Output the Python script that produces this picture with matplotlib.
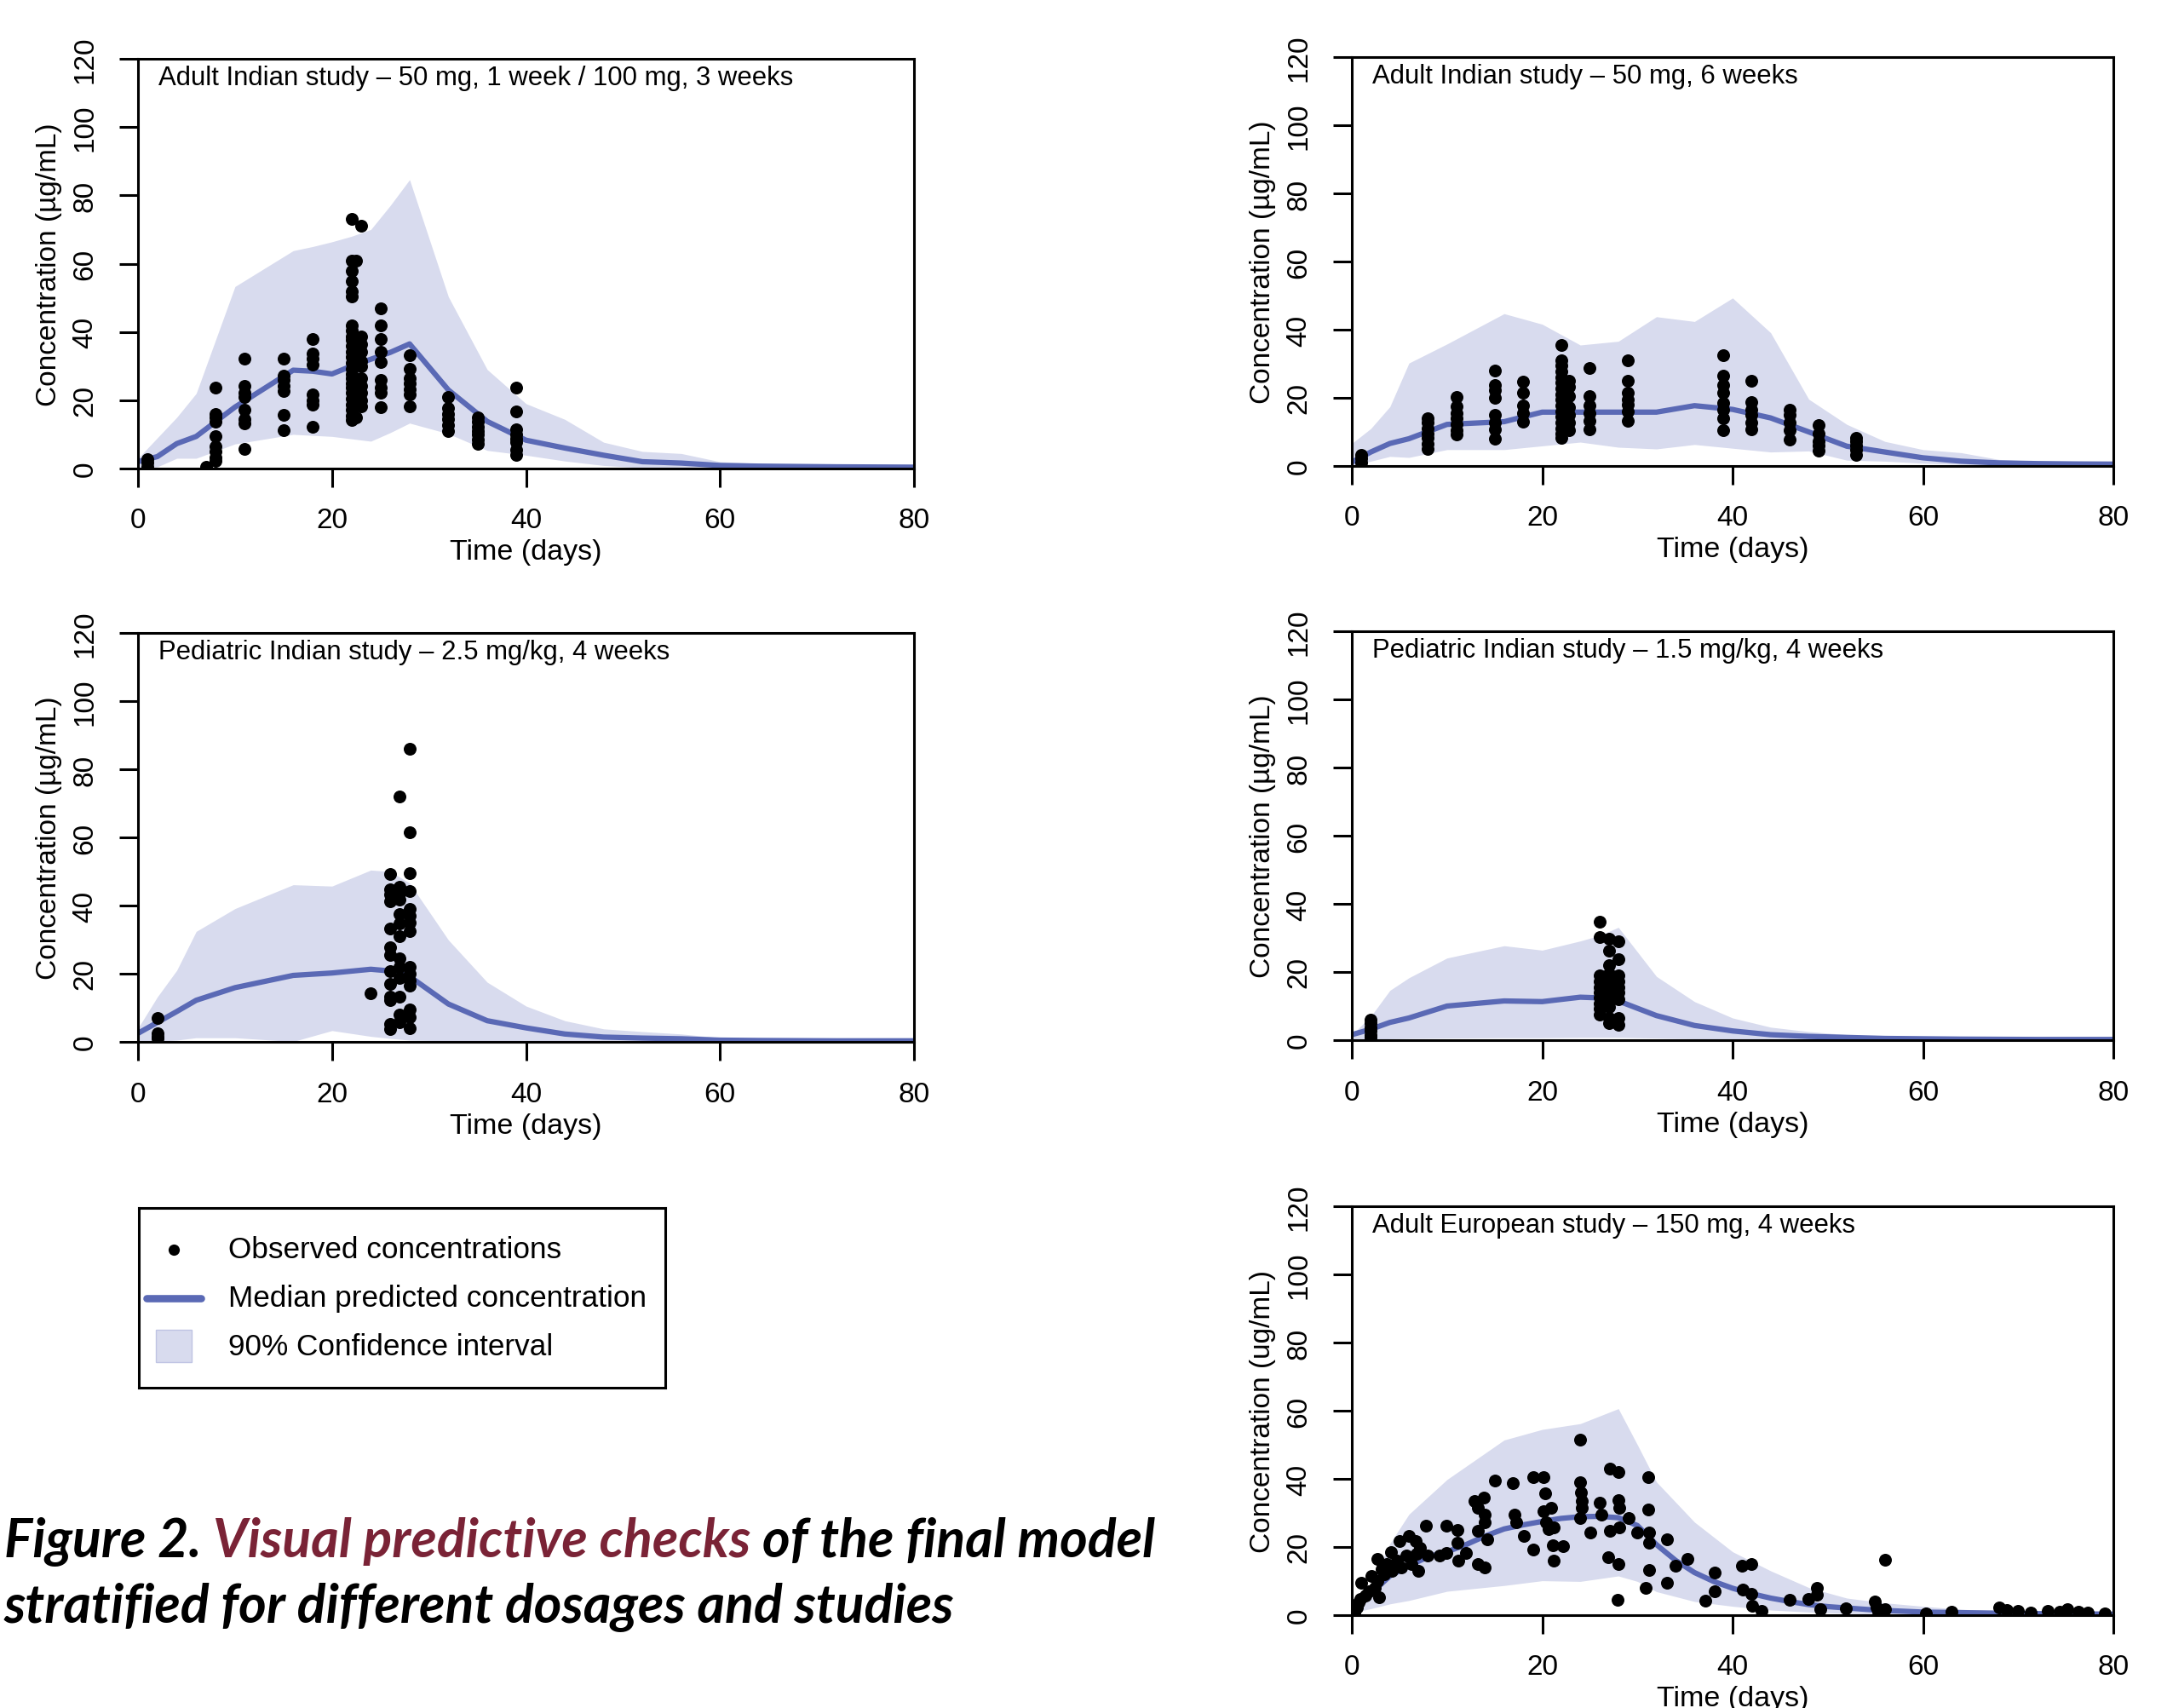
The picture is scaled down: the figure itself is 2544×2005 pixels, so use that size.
import matplotlib
matplotlib.use("Agg")
import matplotlib.pyplot as plt
from matplotlib.patches import Rectangle
import numpy as np

# ---------------- data ----------------
# Panel 1: Adult Indian study - 50 mg, 1 week / 100 mg, 3 weeks
p1_t = [0, 2, 4, 6, 10, 16, 18, 20, 22, 24, 26, 28, 32, 36, 40, 44, 48, 52, 56, 60, 64, 68, 72, 76, 80]
p1_med = [2, 3.5, 7.3, 9.4, 18, 28.8, 28.5, 27.7, 30, 32, 34, 36.5, 23, 13.8, 8.3, 6, 3.9, 2, 1.6, 0.9, 0.7, 0.6, 0.5, 0.45, 0.4]
p1_hi = [3, 9, 15, 22, 53.3, 63.8, 65, 66.4, 68, 70, 77, 84.6, 50.3, 29, 19, 14.4, 7.7, 5, 4.4, 2, 1.5, 1.2, 1, 0.8, 0.5]
p1_lo = [0, 0.5, 3, 3, 7.2, 10, 9.7, 9.4, 8.7, 8, 10.5, 13.3, 10.2, 5.3, 3.9, 2.2, 0.9, 0.2, 0.1, 0.05, 0.05, 0.05, 0.05, 0.05, 0.05]
p1_obs_days = [1, 7, 8, 11, 15, 18, 22, 22.5, 23, 25, 28, 32, 35, 39]
p1_obs_conc = [
    [2.8, 1.7, 0.6],
    [0.5],
    [23.8, 16, 15, 13.8, 9.4, 6.6, 5, 3.3, 2.2],
    [32.3, 24.3, 22.1, 21, 17.1, 14.4, 13.3, 5.8],
    [32.1, 27.1, 26, 24.3, 22.7, 15.7, 11.3],
    [37.8, 33.7, 32.1, 30.4, 21.6, 19.9, 18.8, 12.2],
    [73.2, 60.8, 58, 54.8, 52, 50.3, 42, 40.4, 38.7, 37.6, 36, 34.3, 32.6, 31, 29.3, 27.7,
     26.5, 24.9, 23.8, 22.1, 20.5, 18.8, 17.1, 15.5, 14.2],
    [60.8, 15],
    [71, 38.7, 36.5, 34.3, 31.5, 29.9, 26.5, 24.3, 22.1, 19.9, 18.3],
    [47, 41.8, 37.8, 34.3, 31.2, 26, 23.8, 22.1, 17.9],
    [33.2, 29.3, 26.5, 24.9, 23.2, 21.6, 18.3],
    [21, 17.7, 16, 14.4, 12.7, 11],
    [15, 13.8, 12.2, 11, 10, 8.6, 7.2],
    [23.8, 16.8, 11.6, 10, 8.8, 7.7, 5.5, 3.9],
]

# Panel 2: Adult Indian study - 50 mg, 6 weeks
p2_t = [0, 2, 4, 6, 10, 16, 20, 24, 28, 32, 36, 40, 44, 48, 52, 56, 60, 64, 68, 72, 76, 80]
p2_med = [1.1, 4.1, 6.6, 8, 12.2, 13, 15.8, 15.8, 15.8, 15.8, 17.7, 16.6, 14.1, 10, 5.8, 4.1, 2.4, 1.4, 0.9, 0.7, 0.6, 0.55]
p2_hi = [6.6, 11, 17.4, 30.2, 35.8, 44.7, 41.6, 35.5, 36.6, 43.8, 42.4, 49.3, 39.1, 19.6, 12.2, 7.2, 4.8, 3.9, 1.9, 1.4, 1.0, 0.8]
p2_lo = [0, 1.4, 2.8, 2.5, 4.8, 4.8, 5.9, 7, 5.5, 5, 6.3, 5.2, 4.1, 4.4, 1.7, 1.4, 0.8, 0.5, 0.3, 0.2, 0.15, 0.1]
p2_obs_days = [1, 8, 11, 15, 18, 22, 22.8, 25, 29, 39, 42, 46, 49, 53]
p2_obs_conc = [
    [3.3, 2.2, 1.1],
    [14.1, 12.7, 11.1, 9.6, 8.3, 6.6, 5],
    [20.3, 17.4, 15.5, 13.9, 12.2, 10.5, 9.2],
    [28, 23.8, 22.2, 19.9, 15, 12.7, 10.7, 8.1],
    [24.7, 21.6, 17.7, 15.5, 13],
    [35.5, 31, 29.6, 27.7, 26, 24.4, 22.7, 21, 19.4, 17.7, 16.1, 14.4, 12.7, 11.1, 9.4, 8.3],
    [24.9, 23.3, 20.5, 17.2, 15, 12.7, 10.5],
    [28.8, 20.5, 17.7, 15.5, 13.3, 10.7],
    [31, 24.9, 21.6, 19.6, 18.1, 16.1, 13.3],
    [32.4, 26.6, 23.8, 21.4, 18.5, 16.6, 14.1, 10.5],
    [24.9, 18.8, 16.6, 15, 12.7, 10.7],
    [16.6, 15, 12.7, 10.5, 7.8],
    [11.9, 9.4, 7.2, 6.1, 4.4],
    [8.3, 7.2, 6.1, 4.8, 3.3],
]

# Panel 3: Pediatric Indian study - 2.5 mg/kg, 4 weeks
p3_t = [0, 2, 4, 6, 10, 16, 20, 24, 26, 28, 32, 36, 40, 44, 48, 52, 56, 60, 64, 68, 72, 76, 80]
p3_med = [2.5, 5.7, 8.9, 12.2, 15.9, 19.5, 20.2, 21.3, 20.8, 19.2, 11.1, 6.2, 4.1, 2.3, 1.4, 1.1, 0.9, 0.5, 0.4, 0.35, 0.3, 0.3, 0.3]
p3_hi = [4, 13.2, 21, 32.4, 39.1, 46.1, 45.7, 50.4, 50, 46.6, 29.9, 17.5, 10.5, 6.2, 3.8, 3, 2.3, 1.2, 0.9, 0.7, 0.5, 0.4, 0.3]
p3_lo = [0, 0.2, 0.5, 1.2, 1.2, 0.1, 3.3, 1.6, 1.0, 0.5, 0.3, 0.2, 0.1, 0.05, 0, 0, 0, 0, 0, 0, 0, 0, 0]
p3_obs_days = [2, 24, 26, 27, 28]
p3_obs_conc = [
    [7, 2.5, 1.4, 0.9],
    [14.3],
    [49.3, 44.7, 43.2, 41.2, 33.2, 27.8, 25.6, 20.8, 17, 13.2, 12.2, 5.2, 3.8],
    [71.9, 45.5, 43.6, 41.8, 37.5, 34.8, 31, 24.5, 21.9, 18.7, 13.2, 7.9, 5.7],
    [86.1, 61.5, 49.6, 44.2, 39, 36.9, 35, 32.4, 21.9, 19.9, 18.1, 16.5, 9.5, 7.3, 4.1],
]

# Panel 4: Pediatric Indian study - 1.5 mg/kg, 4 weeks
p4_t = [0, 2, 4, 6, 10, 16, 20, 24, 26, 28, 32, 36, 40, 44, 48, 52, 56, 60, 64, 68, 72, 76, 80]
p4_med = [1.6, 3.2, 5.2, 6.5, 10, 11.5, 11.3, 12.6, 12.4, 11.5, 7.2, 4.3, 2.7, 1.6, 1.1, 0.8, 0.5, 0.4, 0.3, 0.25, 0.2, 0.2, 0.2]
p4_hi = [1.6, 7, 14.6, 18.3, 24.1, 27.7, 26.4, 29.1, 30.7, 33.1, 18.7, 11.3, 6.5, 3.8, 2.5, 1.6, 1.0, 0.6, 0.5, 0.4, 0.3, 0.25, 0.2]
p4_lo = [0, 0.2, 0.4, 0.5, 0.6, 0.7, 0.7, 0.8, 0.8, 0.8, 0.6, 0.4, 0.3, 0.2, 0.1, 0.05, 0, 0, 0, 0, 0, 0, 0]
p4_obs_days = [2, 26, 27, 28]
p4_obs_conc = [
    [5.9, 4.9, 3.8, 2.7, 1.6, 0.8],
    [34.8, 30.2, 18.9, 17.3, 15.6, 14, 12.4, 10.8, 9.2, 7.6],
    [29.7, 26.2, 22.1, 19.4, 17.8, 16.2, 14.6, 12.9, 11.3, 9.7, 6.5, 4.9],
    [29.1, 23.7, 18.9, 17.3, 15.6, 14, 11.9, 6.5, 4.6],
]

# Panel 5: Adult European study - 150 mg, 4 weeks
p5_t = [0, 1, 2, 3, 4, 6, 8, 10, 12, 14, 16, 18, 20, 22, 24, 26, 28, 30, 32, 34, 36, 38, 40, 42, 44, 46, 48, 50, 55, 60, 70, 80]
p5_med = [0.7, 3.8, 6.9, 8.9, 11.5, 14.5, 17.1, 18.6, 20.7, 23.2, 25.3, 26.5, 27.5, 28.4, 28.9, 29, 28.6, 26.3, 20.7, 16.1,
          12.5, 9.9, 7.9, 6.3, 5, 4, 3.1, 2.5, 1.5, 0.9, 0.5, 0.3]
p5_band_t = [0, 2, 4, 6, 10, 16, 20, 24, 28, 30, 32, 36, 40, 44, 48, 52, 56, 60, 64, 70, 80]
p5_hi = [1.7, 9, 21, 29.6, 39.8, 51.4, 54.5, 56.2, 60.6, 50, 39.1, 27.3, 18.6, 13, 8.1, 5, 3.6, 2.6, 1.7, 1.1, 0.6]
p5_lo = [0.7, 1.9, 3.3, 4.3, 7, 8.7, 10.1, 9.9, 11.5, 9.9, 6.9, 4, 2.6, 1.5, 0.9, 0.5, 0.3, 0.2, 0.15, 0.1, 0.1]
p5_obs_day = [0.3, 0.5, 0.7, 0.9, 1, 1.4, 1.8, 2.1, 2.4, 2.7, 2.7, 2.9, 3.1, 3.4, 3.7, 4.1, 4.2, 4.7, 5, 5.2,
              5.7, 6, 6.1, 6.3, 6.7, 6.8, 7, 7.2, 7.8, 8, 9.2, 9.9, 9.9, 11.1, 11.1, 11.2, 12, 12.9, 13.2, 13.2,
              13.2, 13.9, 14, 14, 14.2, 14, 15, 16.9, 17.1, 17.3, 18.1, 19.1, 19.1, 20.1, 20.3, 20.1, 20.4, 20.7, 20.9, 21.1,
              21.2, 21.2, 22.2, 24, 24, 24.1, 24.2, 24.2, 24, 25.1, 26, 26.2, 27.1, 27.1, 26.9, 28, 28, 28.1, 28.1, 28,
              27.9, 29.1, 30, 31.1, 31.1, 31.2, 31.2, 31.2, 30.9, 33.1, 33.1, 34, 35.3, 37.1, 38.1, 38.1, 41, 42, 41.1, 42,
              42.1, 43, 46, 48, 48.9, 48.9, 49.2, 51.9, 54.9, 55.1, 56, 56, 55.3, 60.3, 63, 68, 68.8, 70, 71.3, 73.1,
              74.4, 75.2, 76.3, 77.3, 79.1]
p5_obs_conc = [0.7, 2.3, 3.8, 4.8, 9.4, 5.8, 6.9, 11.5, 8.1, 9.9, 16.6, 5.3, 13.5, 12, 15, 18.6, 13, 16.1, 21.7, 14,
               17.6, 23.2, 17.1, 15, 21.7, 18.1, 13, 19.7, 26.3, 17.6, 17.6, 26.3, 18.3, 25.1, 21.2, 16.1, 18.3, 33.5, 31.4, 24.8,
               15, 34.5, 29.4, 27.3, 22.2, 14, 39.6, 38.8, 29.4, 27.3, 23.2, 19.3, 40.6, 40.4, 35.7, 30.4, 27.3, 25.3, 31.4, 20.4,
               16.1, 25.8, 20.2, 51.4, 39.1, 36, 33.5, 31.4, 28.4, 24.3, 33, 29.4, 42.9, 24.8, 17.1, 41.9, 33.7, 31.4, 25.8, 15,
               4.6, 28.4, 24.3, 40.6, 30.9, 24.3, 21.2, 13.2, 8.1, 22.2, 9.4, 14.5, 16.6, 4.3, 12.5, 6.9, 14.5, 15, 7.4, 6.3,
               2.8, 1.2, 4.6, 4.8, 8.1, 6, 1.7, 1.9, 4, 2.3, 16.3, 1.7, 0.9, 0.5, 0.9, 2.3, 1.5, 1.2, 0.7, 1.2,
               0.9, 1.7, 0.9, 0.7, 0.5]

titles = ["Adult Indian study \u2013 50 mg, 1 week / 100 mg, 3 weeks",
          "Adult Indian study \u2013 50 mg, 6 weeks",
          "Pediatric Indian study \u2013 2.5 mg/kg, 4 weeks",
          "Pediatric Indian study \u2013 1.5 mg/kg, 4 weeks",
          "Adult European study \u2013 150 mg, 4 weeks"]
ylabels = ["Concentration (\u00b5g/mL)"] * 4 + ["Concentration (ug/mL)"]
xlabel = "Time (days)"
x_ticks = [0, 20, 40, 60, 80]
y_ticks = [0, 20, 40, 60, 80, 100, 120]
legend_labels = ["Observed concentrations", "Median predicted concentration", "90% Confidence interval"]
caption_parts = [("Figure 2. ", "black"), ("Visual predictive checks", "#7A2336"), (" of the final model", "black")]
caption_line2 = "stratified for different dosages and studies"

# ---------------- style ----------------
BAND = "#D8DBEE"
LINE = "#5A69B5"
FONT = "Liberation Sans"
W, H = 2544, 2006
DPI = 100

fig = plt.figure(figsize=(W / DPI, H / DPI), dpi=DPI)
fig.patch.set_facecolor("white")

# axes boxes in pixel coordinates (left, right, top, bottom)
boxes = [(162, 1073, 70, 551), (1587, 2481, 68, 548),
         (162, 1073, 744, 1224), (1587, 2481, 742, 1222),
         (1587, 2481, 1417, 1897)]

panels = [
    (p1_t, p1_med, p1_t, p1_lo, p1_hi, p1_obs_days, p1_obs_conc),
    (p2_t, p2_med, p2_t, p2_lo, p2_hi, p2_obs_days, p2_obs_conc),
    (p3_t, p3_med, p3_t, p3_lo, p3_hi, p3_obs_days, p3_obs_conc),
    (p4_t, p4_med, p4_t, p4_lo, p4_hi, p4_obs_days, p4_obs_conc),
]


def px2pt(px):
    return px * 72.0 / DPI


def make_ax(box):
    l, r, t, b = box
    ax = fig.add_axes([l / W, 1 - b / H, (r - l) / W, (b - t) / H])
    return ax


def style_ax(ax, box, title, ylabel):
    l, r, t, b = box
    wpx, hpx = r - l, b - t
    ax.set_xlim(0, 80)
    ax.set_ylim(0, 120)
    for s in ax.spines.values():
        s.set_linewidth(2.2)
        s.set_color("black")
    ax.set_xticks(x_ticks)
    ax.set_yticks(y_ticks)
    ax.tick_params(axis="both", direction="out", length=px2pt(22), width=2.2,
                   labelsize=24, top=False, right=False)
    ax.tick_params(axis="x", pad=px2pt(39))
    ax.tick_params(axis="y", pad=px2pt(40))
    ax.set_xticklabels([str(v) for v in x_ticks], fontfamily=FONT)
    ax.set_yticklabels([str(v) for v in y_ticks], fontfamily=FONT, rotation=90)
    for lab in ax.get_xticklabels():
        lab.set_va("center")
    for lab in ax.get_yticklabels():
        lab.set_ha("center")
        lab.set_va("center")
    ax.set_xlabel(xlabel, fontsize=24.5, fontfamily=FONT, va="center")
    ax.xaxis.set_label_coords(0.5, -98 / hpx)
    ax.set_ylabel(ylabel, fontsize=24, fontfamily=FONT, va="center", ha="center")
    ax.yaxis.set_label_coords(-104 / wpx, 0.5)
    ax.text(24 / wpx, 1 - 30 / hpx, title, transform=ax.transAxes, fontsize=22.4,
            fontfamily=FONT, va="baseline", ha="left")


for i, (t, med, bt, lo, hi, od, oc) in enumerate(panels):
    ax = make_ax(boxes[i])
    ax.fill_between(bt, lo, hi, color=BAND, lw=0, zorder=1)
    ax.plot(t, med, color=LINE, lw=4.5, zorder=2, solid_capstyle="butt")
    xs = [d for d, cs in zip(od, oc) for _ in cs]
    ys = [c for cs in oc for c in cs]
    ax.plot(xs, ys, "o", color="black", ms=10.8, mew=0, zorder=3)
    style_ax(ax, boxes[i], titles[i], ylabels[i])

ax5 = make_ax(boxes[4])
ax5.fill_between(p5_band_t, p5_lo, p5_hi, color=BAND, lw=0, zorder=1)
ax5.plot(p5_t, p5_med, color=LINE, lw=4.5, zorder=2)
ax5.plot(p5_obs_day, p5_obs_conc, "o", color="black", ms=10.8, mew=0, zorder=3)
style_ax(ax5, boxes[4], titles[4], ylabels[4])

# ---------------- legend box ----------------
lg_l, lg_r, lg_t, lg_b = 163, 781, 1419, 1630
lax = fig.add_axes([lg_l / W, 1 - lg_b / H, (lg_r - lg_l) / W, (lg_b - lg_t) / H])
lax.set_xlim(lg_l, lg_r)
lax.set_ylim(lg_b, lg_t)
lax.set_xticks([])
lax.set_yticks([])
for s in lax.spines.values():
    s.set_linewidth(2.2)
rows_y = [1468, 1525, 1582]
lax.plot([204.5], [rows_y[0]], "o", color="black", ms=9.5, mew=0)
lax.plot([172, 236], [rows_y[1], rows_y[1]], color=LINE, lw=6.2, solid_capstyle="round")
lax.add_patch(Rectangle((183, 1562), 42, 38, facecolor=BAND, edgecolor="#BFC4E3", lw=1))
for yy, lab in zip(rows_y, legend_labels):
    lax.text(268, yy, lab, fontsize=25.3, fontfamily=FONT, va="center", ha="left")

# ---------------- caption ----------------
CAP_FS = 45
cap_kw = dict(fontsize=CAP_FS, fontfamily="Lato", fontweight="bold", fontstyle="italic")
renderer = fig.canvas.get_renderer()
x_px = 5
y1 = 1 - 1828 / H
for txt, col in caption_parts:
    lead = len(txt) - len(txt.lstrip(" "))
    core = txt.strip(" ")
    probe = fig.text(0, 0, "x x", **cap_kw)
    probe2 = fig.text(0, 0, "xx", **cap_kw)
    sp = probe.get_window_extent(renderer).width - probe2.get_window_extent(renderer).width
    probe.remove()
    probe2.remove()
    x_px += lead * sp
    tt = fig.text(x_px / W, y1, core, color=col, va="baseline", ha="left", **cap_kw)
    x_px = tt.get_window_extent(renderer).x1
    trail = len(txt) - len(txt.rstrip(" "))
    x_px += trail * sp
fig.text(5 / W, 1 - 1905 / H, caption_line2, color="black", va="baseline", ha="left", **cap_kw)

fig.savefig("out.png", dpi=DPI, facecolor="white")
